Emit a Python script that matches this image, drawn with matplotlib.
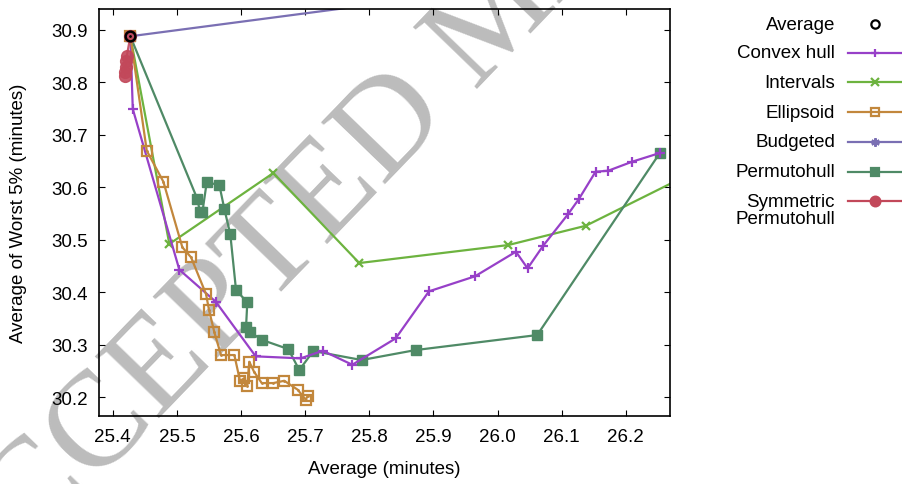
import matplotlib
matplotlib.use("Agg")
import matplotlib.pyplot as plt
from matplotlib.lines import Line2D

plt.rcParams['font.family'] = ['Liberation Sans', 'DejaVu Sans']

# point (Average)
avg_x = [25.4274]
avg_y = [30.888]

convex_x = [25.4274, 25.4312, 25.5038, 25.5606, 25.6229, 25.6931, 25.7274, 25.7735,
            25.8412, 25.8931, 25.9648, 26.0287, 26.0469, 26.0712, 26.1102, 26.1269,
            26.1529, 26.1726, 26.2100, 26.2532]
convex_y = [30.888, 30.7494, 30.4432, 30.3822, 30.2781, 30.2743, 30.2888, 30.2621,
            30.3124, 30.4020, 30.4306, 30.4775, 30.4458, 30.4889, 30.5493, 30.5779,
            30.6299, 30.6318, 30.6490, 30.6656]

intervals_x = [25.4274, 25.4882, 25.6504, 25.7844, 26.0167, 26.1378, 26.35]
intervals_y = [30.888, 30.4922, 30.6275, 30.4559, 30.4902, 30.5270, 30.656]

ellipsoid_x = [25.4274, 25.4530, 25.4789, 25.5085, 25.5221, 25.5454, 25.5501, 25.5584,
               25.5688, 25.5896, 25.5984, 25.6051, 25.6098, 25.6129, 25.6203, 25.6323,
               25.6504, 25.6675, 25.6884, 25.7009, 25.7040]
ellipsoid_y = [30.888, 30.6700, 30.6109, 30.4859, 30.4668, 30.3969, 30.3664, 30.3239,
               30.2806, 30.2806, 30.2316, 30.2362, 30.2221, 30.2678, 30.2488, 30.2272,
               30.2272, 30.2316, 30.2145, 30.1954, 30.2030]

budgeted_x = [25.4274, 27.0]
budgeted_y = [30.888, 31.14]

permuto_x = [25.4274, 25.5319, 25.5361, 25.5397, 25.5465, 25.5662, 25.5740, 25.5833,
             25.5922, 25.6098, 25.6078, 25.6145, 25.6332, 25.6737, 25.6909, 25.7127,
             25.7882, 25.8723, 26.0619, 26.2532]
permuto_y = [30.888, 30.5779, 30.5526, 30.5526, 30.6097, 30.6046, 30.5589, 30.5106,
             30.4045, 30.3810, 30.3334, 30.3239, 30.3092, 30.2920, 30.2520, 30.2882,
             30.2711, 30.2901, 30.3187, 30.6656]

sym_x = [25.4274, 25.4220, 25.4205, 25.4200, 25.4195, 25.4190]
sym_y = [30.888, 30.851, 30.840, 30.829, 30.819, 30.813]

xticks = [25.4, 25.5, 25.6, 25.7, 25.8, 25.9, 26.0, 26.1, 26.2]
yticks = [30.2, 30.3, 30.4, 30.5, 30.6, 30.7, 30.8, 30.9]

c_convex = '#9740c8'
c_int = '#6db33f'
c_ell = '#c2873c'
c_bud = '#7a6fb3'
c_perm = '#4f8a66'
c_sym = '#c2485a'

fig = plt.figure(figsize=(9.02, 4.85), dpi=100)
ax = fig.add_axes([0.1101, 0.1408, 0.6327, 0.8386])
ax.patch.set_alpha(0)

# watermark behind the plot
fig.text(0.554, 0.962, 'ACCEPTED MANUSCRIPT', family='Liberation Serif', fontsize=98,
         color='#bcbcbc', rotation=46, rotation_mode='anchor', ha='center', va='center',
         zorder=-5)

lw = 1.6
ax.plot(budgeted_x, budgeted_y, color=c_bud, lw=lw, marker=(6, 2, 0), ms=7, mew=1.5)
ax.plot(intervals_x, intervals_y, color=c_int, lw=lw, marker='x', ms=6, mew=1.6)
ax.plot(permuto_x, permuto_y, color=c_perm, lw=lw, marker='s', ms=6.5)
ax.plot(convex_x, convex_y, color=c_convex, lw=lw, marker='+', ms=7, mew=1.6)
ax.plot(ellipsoid_x, ellipsoid_y, color=c_ell, lw=lw, marker='s', ms=7, mfc='none', mew=1.6)
ax.plot(ellipsoid_x, ellipsoid_y, ls='none', color=c_ell, marker='.', ms=2)
ax.plot(sym_x, sym_y, color=c_sym, lw=lw, marker='o', ms=8.5, alpha=0.9)
ax.plot(avg_x, avg_y, ls='none', color='black', marker='o', ms=7, mfc='none', mew=1.8)
ax.plot(avg_x, avg_y, ls='none', color='black', marker='.', ms=2)

ax.set_xlim(25.379, 26.269)
ax.set_ylim(30.165, 30.94)
ax.set_xticks(xticks)
ax.set_xticklabels([f'{v:.1f}' for v in xticks])
ax.set_yticks(yticks)
ax.set_yticklabels([f'{v:.1f}' for v in yticks])
ax.tick_params(direction='in', top=True, right=True, length=4, width=0.8,
               labelsize=13.5)
ax.tick_params(axis='x', pad=9)
ax.tick_params(axis='y', pad=8)
for s in ax.spines.values():
    s.set_linewidth(1.2)

ax.set_xlabel('Average (minutes)', fontsize=13.5)
ax.set_ylabel('Average of Worst 5% (minutes)', fontsize=13.5)
ax.xaxis.set_label_coords(0.5, -0.11)
ax.yaxis.set_label_coords(-0.127, 0.5)

# legend on the right, label first then sample
W, H = 902.0, 485.0
rows = [
    ('Average', None, 'o', 25),
    ('Convex hull', c_convex, '+', 54),
    ('Intervals', c_int, 'x', 83.3),
    ('Ellipsoid', c_ell, 's', 113.3),
    ('Budgeted', c_bud, (6, 2, 0), 142.7),
    ('Permutohull', c_perm, 's', 172.7),
    ('Symmetric\nPermutohull', c_sym, 'o', 201.7),
]
for label, col, mk, py in rows:
    yy = 1 - py / H
    if '\n' in label:
        fig.text(835 / W, 1 - 211 / H, label, ha='right', va='center',
                 multialignment='right', fontsize=13.5, linespacing=0.95)
    else:
        fig.text(835 / W, yy, label, ha='right', va='center', fontsize=13.5)
    if col is None:
        fig.add_artist(Line2D([875 / W], [yy], ls='none', marker='o', ms=6, mfc='none',
                              mec='black', mew=1.6, transform=fig.transFigure))
        continue
    fig.add_artist(Line2D([848 / W, 902 / W], [yy, yy], color=col, lw=lw,
                          transform=fig.transFigure))
    kw = dict(ls='none', marker=mk, color=col, mew=1.6, transform=fig.transFigure)
    if label == 'Ellipsoid':
        kw.update(mfc='none', ms=6)
    elif label == 'Symmetric\nPermutohull':
        kw.update(ms=7)
    else:
        kw.update(ms=6)
    fig.add_artist(Line2D([875 / W], [yy], **kw))

fig.savefig('out.png', dpi=100)
